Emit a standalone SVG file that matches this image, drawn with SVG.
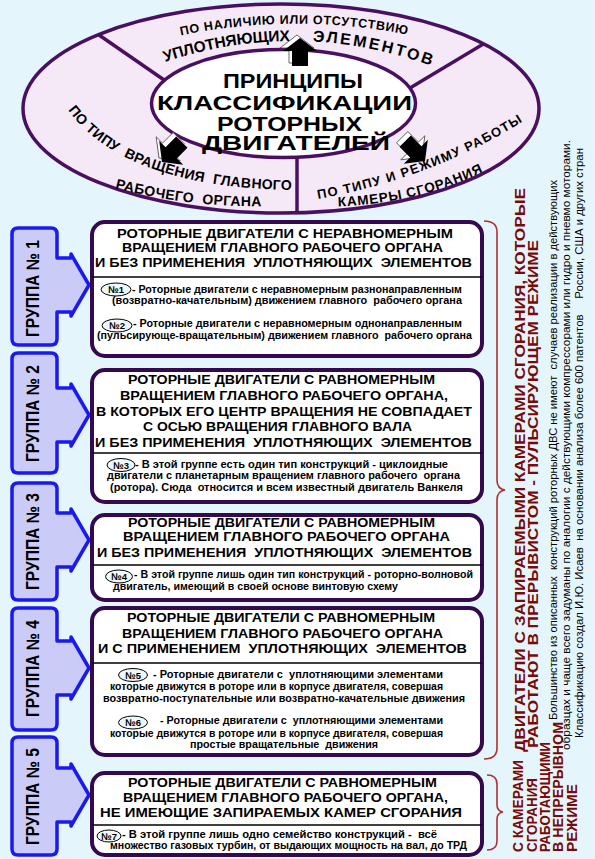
<svg xmlns="http://www.w3.org/2000/svg" width="595" height="859" viewBox="0 0 595 859">
<defs>
<style>
.t{font-family:"Liberation Sans",Arial,sans-serif;font-weight:bold;fill:#000}
.h{font-size:13.5px}
.b{font-size:10.5px}
.c{font-size:21px}
.grp{fill:#cbcbf7;stroke:#1a1af0;stroke-width:3.5;stroke-linejoin:round}
.box{fill:#fff;stroke:#35094d;stroke-width:4}
.sep{stroke:#000;stroke-width:1.3}
.ov{fill:#eef8fb;stroke:#000;stroke-width:1}
.gt{font-size:18px}
.red{fill:#7a0a0a;font-size:15px}
.note{font-family:"Liberation Sans",Arial,sans-serif;font-size:10px;fill:#000}
.br{fill:none;stroke:#b03030;stroke-width:1.6}
.div{stroke:#4a1060;stroke-width:3.5}
</style>
<path id="arr" d="M0,0 L17,13 L8,13 L8,28 L-8,28 L-8,13 L-17,13 Z"/>
<clipPath id="oc"><ellipse cx="281" cy="108.5" rx="258" ry="104.5"/></clipPath>
<path id="p1" d="M178,36 Q293,12 410,35"/>
<path id="p2" d="M165,62 Q298,18 432,66"/>
<path id="p3" d="M68,110 Q125,188 295,190"/>
<path id="p4" d="M115,188 Q190,208 270,206"/>
<path id="p5" d="M318,199 Q430,179 522,122"/>
<path id="p6" d="M338,206.5 Q420,203 485,171"/>
</defs>
<rect width="595" height="859" fill="#e4f6fb"/>

<g id="principles">
<ellipse cx="281" cy="108.5" rx="258" ry="104.5" fill="#f6e9f7"/>
<g clip-path="url(#oc)">
<line class="div" x1="180" y1="91" x2="60" y2="8"/>
<line class="div" x1="410" y1="88" x2="540" y2="10"/>
<line class="div" x1="297" y1="140" x2="297" y2="220"/>
</g>
<ellipse cx="281" cy="108.5" rx="258" ry="104.5" fill="none" stroke="#4a1060" stroke-width="3.5"/>
<ellipse cx="283.5" cy="103.5" rx="132" ry="54" fill="#fff" stroke="#4a1060" stroke-width="3.5"/>
<text class="t" font-size="12.5"><textPath href="#p1" startOffset="50%" text-anchor="middle" textLength="228">ПО НАЛИЧИЮ ИЛИ ОТСУТСТВИЮ</textPath></text>
<text class="t" font-size="15.5"><textPath href="#p2" textLength="127">УПЛОТНЯЮЩИХ</textPath></text>
<text class="t" font-size="16"><textPath href="#p2" startOffset="150" textLength="121">ЭЛЕМЕНТОВ</textPath></text>
<text class="t" font-size="14" xml:space="preserve"><textPath href="#p3" textLength="246">ПО ТИПУ  ВРАЩЕНИЯ  ГЛАВНОГО</textPath></text>
<text class="t" font-size="14" xml:space="preserve"><textPath href="#p4" textLength="148">РАБОЧЕГО  ОРГАНА</textPath></text>
<text class="t" font-size="13"><textPath href="#p5" textLength="220">ПО ТИПУ И РЕЖИМУ РАБОТЫ</textPath></text>
<text class="t" font-size="13.5"><textPath href="#p6" textLength="150">КАМЕРЫ СГОРАНИЯ</textPath></text>
<text class="t c" x="223" y="88" textLength="140" lengthAdjust="spacingAndGlyphs">ПРИНЦИПЫ</text>
<text class="t c" x="157" y="110" textLength="255" lengthAdjust="spacingAndGlyphs">КЛАССИФИКАЦИИ</text>
<text class="t c" x="217" y="130.5" textLength="145" lengthAdjust="spacingAndGlyphs">РОТОРНЫХ</text>
<text class="t c" x="202" y="150" textLength="188" lengthAdjust="spacingAndGlyphs">ДВИГАТЕЛЕЙ</text>
</g>

<g id="connectors">
<use href="#arr" transform="translate(297,35)" fill="#fff" stroke="#444" stroke-width="0.8"/>
<use href="#arr" transform="translate(300,38)" fill="#000"/>
<use href="#arr" transform="translate(159,158) rotate(-135)" fill="#fff" stroke="#444" stroke-width="0.8"/>
<use href="#arr" transform="translate(162,162) rotate(-135)" fill="#000"/>
<use href="#arr" transform="translate(422,157) rotate(135)" fill="#fff" stroke="#444" stroke-width="0.8"/>
<use href="#arr" transform="translate(425,161) rotate(135)" fill="#000"/>
<path class="br" d="M484,221 Q497,221 497,232 L497,480 Q497,489 505,490 Q497,491 497,500 L497,748 Q497,759 484,759"/>
<path class="br" d="M487,775 Q497,775 497,784 L497,805 Q497,811 503,812 Q497,813 497,819 L497,841 Q497,850 487,850"/>
</g>

<g id="group1">
<path class="grp" d="M18,228 H51 Q57,228 57,234 V258 H71 V254 L89,285 L71,316 V312 H57 V339 Q57,345 51,345 H18 Q12,345 12,339 V234 Q12,228 18,228 Z"/>
<text class="t gt" transform="translate(39,337) rotate(-90)" textLength="97" lengthAdjust="spacingAndGlyphs">ГРУППА № 1</text>
</g>
<g id="group2">
<path class="grp" d="M18,353 H51 Q57,353 57,359 V388 H71 V384 L89,415 L71,446 V442 H57 V467 Q57,473 51,473 H18 Q12,473 12,467 V359 Q12,353 18,353 Z"/>
<text class="t gt" transform="translate(39,462) rotate(-90)" textLength="97" lengthAdjust="spacingAndGlyphs">ГРУППА № 2</text>
</g>
<g id="group3">
<path class="grp" d="M18,483 H51 Q57,483 57,489 V513 H71 V509 L89,540 L71,571 V567 H57 V594 Q57,600 51,600 H18 Q12,600 12,594 V489 Q12,483 18,483 Z"/>
<text class="t gt" transform="translate(39,590) rotate(-90)" textLength="97" lengthAdjust="spacingAndGlyphs">ГРУППА № 3</text>
</g>
<g id="group4">
<path class="grp" d="M18,608 H51 Q57,608 57,614 V641 H71 V637 L89,668 L71,699 V695 H57 V724 Q57,730 51,730 H18 Q12,730 12,724 V614 Q12,608 18,608 Z"/>
<text class="t gt" transform="translate(39,717) rotate(-90)" textLength="97" lengthAdjust="spacingAndGlyphs">ГРУППА № 4</text>
</g>
<g id="group5">
<path class="grp" d="M18,737 H51 Q57,737 57,743 V768 H71 V764 L89,795 L71,826 V822 H57 V849 Q57,855 51,855 H18 Q12,855 12,849 V743 Q12,737 18,737 Z"/>
<text class="t gt" transform="translate(39,845) rotate(-90)" textLength="97" lengthAdjust="spacingAndGlyphs">ГРУППА № 5</text>
</g>

<g id="box1">
<rect class="box" x="92" y="222" width="390" height="134" rx="13"/>
<line class="sep" x1="92" y1="277" x2="482" y2="277"/>
<text class="t h" x="117" y="238" textLength="336" lengthAdjust="spacingAndGlyphs">РОТОРНЫЕ ДВИГАТЕЛИ С НЕРАВНОМЕРНЫМ</text>
<text class="t h" x="122" y="252" textLength="321" lengthAdjust="spacingAndGlyphs">ВРАЩЕНИЕМ ГЛАВНОГО РАБОЧЕГО ОРГАНА</text>
<text class="t h" x="95" y="267" textLength="377" lengthAdjust="spacingAndGlyphs" xml:space="preserve">И БЕЗ ПРИМЕНЕНИЯ  УПЛОТНЯЮЩИХ  ЭЛЕМЕНТОВ</text>
<ellipse class="ov" cx="116" cy="289.5" rx="15" ry="6.5"/>
<text class="t" font-size="9.5" x="116" y="293" text-anchor="middle">№1</text>
<text class="t b" x="132" y="292.5" textLength="330" lengthAdjust="spacingAndGlyphs">- Роторные двигатели с неравномерным разнонаправленным</text>
<text class="t b" x="112" y="304" textLength="350" lengthAdjust="spacingAndGlyphs" xml:space="preserve">(возвратно-качательным) движением главного  рабочего органа</text>
<ellipse class="ov" cx="117" cy="325.5" rx="15" ry="6.5"/>
<text class="t" font-size="9.5" x="117" y="329" text-anchor="middle">№2</text>
<text class="t b" x="133" y="327" textLength="329" lengthAdjust="spacingAndGlyphs">- Роторные двигатели с неравномерным однонаправленным</text>
<text class="t b" x="97" y="339" textLength="375" lengthAdjust="spacingAndGlyphs" xml:space="preserve">(пульсирующе-вращательным) движением главного  рабочего органа</text>
</g>

<g id="box2">
<rect class="box" x="92" y="370" width="390" height="132" rx="13"/>
<line class="sep" x1="92" y1="453" x2="482" y2="453"/>
<text class="t h" x="128" y="384" textLength="307" lengthAdjust="spacingAndGlyphs">РОТОРНЫЕ ДВИГАТЕЛИ С РАВНОМЕРНЫМ</text>
<text class="t h" x="120" y="400" textLength="328" lengthAdjust="spacingAndGlyphs">ВРАЩЕНИЕМ ГЛАВНОГО РАБОЧЕГО ОРГАНА,</text>
<text class="t h" x="96" y="416" textLength="376" lengthAdjust="spacingAndGlyphs">В КОТОРЫХ ЕГО ЦЕНТР ВРАЩЕНИЯ НЕ СОВПАДАЕТ</text>
<text class="t h" x="143" y="431" textLength="269" lengthAdjust="spacingAndGlyphs">С ОСЬЮ ВРАЩЕНИЯ ГЛАВНОГО ВАЛА</text>
<text class="t h" x="95" y="447" textLength="377" lengthAdjust="spacingAndGlyphs" xml:space="preserve">И БЕЗ ПРИМЕНЕНИЯ  УПЛОТНЯЮЩИХ  ЭЛЕМЕНТОВ</text>
<ellipse class="ov" cx="121" cy="465" rx="14" ry="6.5"/>
<text class="t" font-size="9.5" x="121" y="468.5" text-anchor="middle">№3</text>
<text class="t b" x="135" y="467.5" textLength="313" lengthAdjust="spacingAndGlyphs">- В этой группе есть один тип конструкций - циклоидные</text>
<text class="t b" x="107" y="479" textLength="353" lengthAdjust="spacingAndGlyphs" xml:space="preserve">двигатели с планетарным вращением главного рабочего  органа</text>
<text class="t b" x="110" y="490.5" textLength="353" lengthAdjust="spacingAndGlyphs" xml:space="preserve">(ротора). Сюда  относится и всем известный двигатель Ванкеля</text>
</g>

<g id="box3">
<rect class="box" x="92" y="515" width="390" height="85" rx="13"/>
<line class="sep" x1="92" y1="565" x2="482" y2="565"/>
<text class="t h" x="128" y="527" textLength="307" lengthAdjust="spacingAndGlyphs">РОТОРНЫЕ ДВИГАТЕЛИ С РАВНОМЕРНЫМ</text>
<text class="t h" x="123" y="541" textLength="327" lengthAdjust="spacingAndGlyphs">ВРАЩЕНИЕМ ГЛАВНОГО РАБОЧЕГО ОРГАНА</text>
<text class="t h" x="97" y="557" textLength="375" lengthAdjust="spacingAndGlyphs" xml:space="preserve">И БЕЗ ПРИМЕНЕНИЯ  УПЛОТНЯЮЩИХ  ЭЛЕМЕНТОВ</text>
<ellipse class="ov" cx="119" cy="576.5" rx="13.5" ry="6.5"/>
<text class="t" font-size="9.5" x="119" y="580" text-anchor="middle">№4</text>
<text class="t b" x="134" y="578" textLength="339" lengthAdjust="spacingAndGlyphs">- В этой группе лишь один тип конструкций - роторно-волновой</text>
<text class="t b" x="113" y="590" textLength="285" lengthAdjust="spacingAndGlyphs">двигатель, имеющий в своей основе винтовую схему</text>
</g>

<g id="box4">
<rect class="box" x="92" y="608" width="390" height="147" rx="13"/>
<line class="sep" x1="92" y1="663" x2="482" y2="663"/>
<text class="t h" x="127" y="622" textLength="308" lengthAdjust="spacingAndGlyphs">РОТОРНЫЕ ДВИГАТЕЛИ С РАВНОМЕРНЫМ</text>
<text class="t h" x="122" y="638" textLength="321" lengthAdjust="spacingAndGlyphs">ВРАЩЕНИЕМ ГЛАВНОГО РАБОЧЕГО ОРГАНА</text>
<text class="t h" x="98" y="653" textLength="369" lengthAdjust="spacingAndGlyphs" xml:space="preserve">И С ПРИМЕНЕНИЕМ  УПЛОТНЯЮЩИХ  ЭЛЕМЕНТОВ</text>
<ellipse class="ov" cx="133" cy="675" rx="14.5" ry="6.5"/>
<text class="t" font-size="9.5" x="133" y="678.5" text-anchor="middle">№5</text>
<text class="t b" x="153" y="678" textLength="290" lengthAdjust="spacingAndGlyphs" xml:space="preserve">- Роторные двигатели с  уплотняющими элементами</text>
<text class="t b" x="110" y="690" textLength="333" lengthAdjust="spacingAndGlyphs">которые движутся в роторе или в корпусе двигателя, совершая</text>
<text class="t b" x="103" y="702" textLength="362" lengthAdjust="spacingAndGlyphs">возвратно-поступательные или возвратно-качательные движения</text>
<ellipse class="ov" cx="133" cy="722.5" rx="14.5" ry="6.5"/>
<text class="t" font-size="9.5" x="133" y="726" text-anchor="middle">№6</text>
<text class="t b" x="160" y="724" textLength="283" lengthAdjust="spacingAndGlyphs" xml:space="preserve">- Роторные двигатели с  уплотняющими элементами</text>
<text class="t b" x="110" y="737" textLength="333" lengthAdjust="spacingAndGlyphs">которые движутся в роторе или в корпусе двигателя, совершая</text>
<text class="t b" x="190" y="748" textLength="188" lengthAdjust="spacingAndGlyphs" xml:space="preserve">простые вращательные  движения</text>
</g>

<g id="box5">
<rect class="box" x="92" y="773" width="390" height="82" rx="13"/>
<line class="sep" x1="92" y1="825" x2="482" y2="825"/>
<text class="t h" x="128" y="787" textLength="309" lengthAdjust="spacingAndGlyphs">РОТОРНЫЕ ДВИГАТЕЛИ С РАВНОМЕРНЫМ</text>
<text class="t h" x="123" y="802" textLength="325" lengthAdjust="spacingAndGlyphs">ВРАЩЕНИЕМ ГЛАВНОГО РАБОЧЕГО ОРГАНА,</text>
<text class="t h" x="100" y="817" textLength="362" lengthAdjust="spacingAndGlyphs">НЕ ИМЕЮЩИЕ ЗАПИРАЕМЫХ КАМЕР СГОРАНИЯ</text>
<ellipse class="ov" cx="109" cy="836" rx="12" ry="6"/>
<text class="t" font-size="9.5" x="109" y="839.5" text-anchor="middle">№7</text>
<text class="t b" x="122" y="838" textLength="315" lengthAdjust="spacingAndGlyphs" xml:space="preserve">- В этой группе лишь одно семейство конструкций -  всё</text>
<text class="t b" x="110" y="849" textLength="357" lengthAdjust="spacingAndGlyphs">множество газовых турбин, от выдающих мощность на вал, до ТРД</text>
</g>

<g id="side-labels">
<text class="t red" transform="translate(525,752) rotate(-90)" textLength="564" lengthAdjust="spacingAndGlyphs">ДВИГАТЕЛИ С ЗАПИРАЕМЫМИ КАМЕРАМИ СГОРАНИЯ, КОТОРЫЕ</text>
<text class="t red" transform="translate(538,748) rotate(-90)" textLength="508" lengthAdjust="spacingAndGlyphs">РАБОТАЮТ В ПРЕРЫВИСТОМ - ПУЛЬСИРУЮЩЕМ РЕЖИМЕ</text>
<text class="t red" transform="translate(523,852) rotate(-90)" textLength="92" lengthAdjust="spacingAndGlyphs">С КАМЕРАМИ</text>
<text class="t red" transform="translate(537,852) rotate(-90)" textLength="74" lengthAdjust="spacingAndGlyphs">СГОРАНИЯ</text>
<text class="t red" transform="translate(550,852) rotate(-90)" textLength="110" lengthAdjust="spacingAndGlyphs">РАБОТАЮЩИМИ</text>
<text class="t red" transform="translate(563,852) rotate(-90)" textLength="130" lengthAdjust="spacingAndGlyphs">В НЕПРЕРЫВНОМ</text>
<text class="t red" transform="translate(577,852) rotate(-90)" textLength="68" lengthAdjust="spacingAndGlyphs">РЕЖИМЕ</text>
<text class="note" transform="translate(557,720) rotate(-90)" textLength="540" lengthAdjust="spacingAndGlyphs" xml:space="preserve">Большинство из описанных  конструкций роторных ДВС не имеют  случаев реализации в действующих</text>
<text class="note" transform="translate(570,750) rotate(-90)" textLength="610" lengthAdjust="spacingAndGlyphs">образцах и чаще всего задуманы по аналогии с действующими компрессорами или гидро и пневмо моторами.</text>
<text class="note" transform="translate(583,738) rotate(-90)" textLength="590" lengthAdjust="spacingAndGlyphs" xml:space="preserve">Классификацию создал И.Ю. Исаев  на основании анализа более 600 патентов     России, США и других стран</text>
</g>
</svg>
